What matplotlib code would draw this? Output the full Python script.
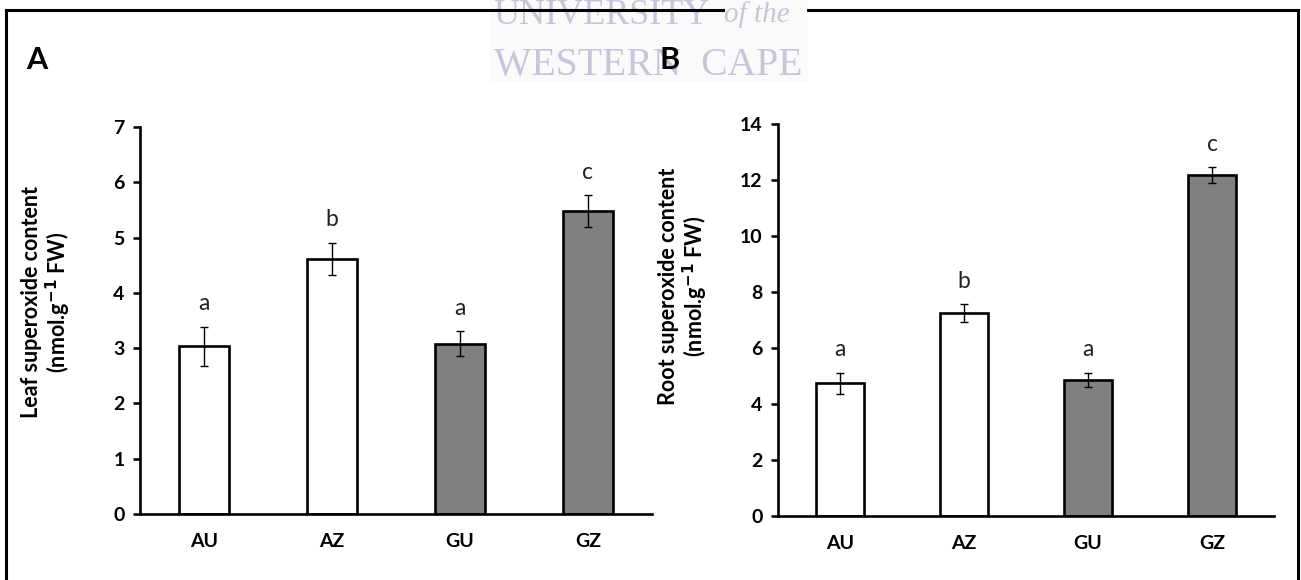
"""
Leaf and root superoxide content, two bar panels (A and B).
"""

import matplotlib

matplotlib.use("Agg")
import matplotlib.pyplot as plt
from matplotlib.patches import Rectangle

plt.rcParams["font.family"] = ["Lato", "DejaVu Sans"]

# data
groups = ["AU", "AZ", "GU", "GZ"]
bar_colors = ["white", "white", "#808080", "#808080"]

leaf_mean = [3.03, 4.62, 3.08, 5.48]
leaf_err = [0.36, 0.29, 0.23, 0.29]
leaf_letters = ["a", "b", "a", "c"]

root_mean = [4.74, 7.25, 4.86, 12.17]
root_err = [0.37, 0.32, 0.25, 0.29]
root_letters = ["a", "b", "a", "c"]

W, H = 1301, 580


def draw_panel(ax, means, errs, letters, ymax, ystep):
    x = range(len(groups))
    ax.bar(x, means, width=0.39, color=bar_colors, edgecolor="black",
           linewidth=1.9, zorder=2)
    ax.errorbar(x, means, yerr=errs, fmt="none", ecolor="black",
                elinewidth=1.0, capsize=3.2, capthick=1.0, zorder=3)
    for xi, m, e, lab in zip(x, means, errs, letters):
        ax.annotate(lab, (xi, m + e), xytext=(0, 9), textcoords="offset points",
                    ha="center", va="bottom", fontsize=16.5, color="#222222")

    ax.set_xlim(-0.5, len(groups) - 0.5)
    ax.set_ylim(0, ymax)
    ax.set_yticks(range(0, ymax + 1, ystep))
    ax.set_xticks(list(x))
    ax.set_xticklabels(groups, fontsize=14, fontweight="bold")
    for t in ax.get_yticklabels():
        t.set_fontsize(14)
        t.set_fontweight("bold")
    ax.tick_params(axis="x", length=0, pad=14)
    ax.tick_params(axis="y", length=5, width=1.8, pad=6, direction="out")
    for side in ["top", "right"]:
        ax.spines[side].set_visible(False)
    for side in ["left", "bottom"]:
        ax.spines[side].set_linewidth(1.9)
    ax.set_facecolor("none")


fig = plt.figure(figsize=(W / 100, H / 100), dpi=100)

ax1 = fig.add_axes([140 / W, 1 - 514 / H, 512 / W, 387 / H])
draw_panel(ax1, leaf_mean, leaf_err, leaf_letters, 7, 1)

ax2 = fig.add_axes([778 / W, 1 - 516 / H, 496 / W, 392 / H])
draw_panel(ax2, root_mean, root_err, root_letters, 14, 2)

# y labels
fig.text(47 / W, 1 - 302 / H, "Leaf superoxide content\n(nmol.g$^{\\mathbf{-1}}$ FW)",
         rotation=90, ha="center", va="center", fontsize=15.5,
         fontweight="bold", multialignment="center", linespacing=1.1)
fig.text(684 / W, 1 - 286 / H, "Root superoxide content\n(nmol.g$^{\\mathbf{-1}}$ FW)",
         rotation=90, ha="center", va="center", fontsize=15.5,
         fontweight="bold", multialignment="center", linespacing=1.1)

# watermark box
wm_box = Rectangle((490 / W, 1 - 82 / H), 318 / W, 82 / H,
                   transform=fig.transFigure, facecolor="#fafafb",
                   edgecolor="none", zorder=1)
fig.add_artist(wm_box)
wm_kw = dict(family="Liberation Serif", color="#c6c6da", zorder=2)
wm_texts = [
    fig.text(493 / W, 1 - 15 / H, "UNIVERSITY", fontsize=26, ha="left",
             va="center", **wm_kw),
    fig.text(724 / W, 1 - 15 / H, "of the", style="italic", fontsize=21,
             ha="left", va="center", **wm_kw),
    fig.text(494 / W, 1 - 65 / H, "WESTERN  CAPE", fontsize=28.5, ha="left",
             va="center", **wm_kw),
]
for t in wm_texts:
    t.set_clip_path(wm_box)

# outer frame (no bottom edge, top edge broken by the watermark)
frame_kw = dict(color="black", lw=2.2, transform=fig.transFigure, zorder=4)
fig.add_artist(plt.Line2D([6 / W, 6 / W], [0, 1 - 10 / H], **frame_kw))
fig.add_artist(plt.Line2D([1298 / W, 1298 / W], [0, 1 - 10 / H], **frame_kw))
fig.add_artist(plt.Line2D([6 / W, 723 / W], [1 - 10 / H, 1 - 10 / H], **frame_kw))
fig.add_artist(plt.Line2D([808 / W, 1298 / W], [1 - 10 / H, 1 - 10 / H], **frame_kw))

# panel letters
fig.text(37 / W, 1 - 60 / H, "A", fontsize=22, fontweight="bold",
         ha="center", va="center", zorder=7)
fig.text(670 / W, 1 - 60 / H, "B", fontsize=22, fontweight="bold",
         ha="center", va="center", zorder=7)

fig.savefig("out.png", dpi=100)
